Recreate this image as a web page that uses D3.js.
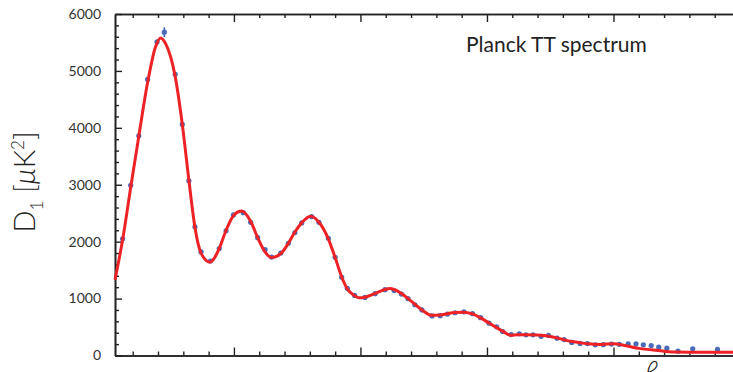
<!DOCTYPE html>
<html><head><meta charset="utf-8">
<script src="https://cdn.jsdelivr.net/npm/d3@7"></script>
<style>
html,body{margin:0;padding:0;background:#fff;}
svg{display:block;}
text{font-family:Lato,"Open Sans",sans-serif;}
</style></head>
<body><svg id="c" width="733" height="372"></svg>
<script>
// Binned Planck TT data points (multipole ℓ, D_ℓ in μK²)
const dataEll = [60,92,124,159,196,225,268,296,322,346,370,407,442,469,498,537,566,594,623,649,685,715,741,768,807,836,873,900,926,948,977,1018,1058,1097,1133,1162,1188,1215,1243,1283,1315,1344,1374,1409,1443,1475,1508,1538,1562,1596,1628,1654,1682,1714,1743,1777,1805,1835,1868,1897,1928,1960,1992,2023,2058,2089,2118,2149,2179,2211,2255,2313,2411];
const dataD = [2050,2990,3860,4850,5510,5680,4940,4060,3070,2260,1820,1660,1880,2190,2470,2510,2340,2070,1860,1730,1800,1970,2160,2330,2440,2340,2060,1725,1375,1180,1056,1020,1086,1156,1140,1080,998,892,800,695,700,728,751,768,734,664,568,505,422,367,382,364,364,337,352,304,280,230,212,210,188,190,200,196,206,206,188,176,146,128,76,118,106];
const dataErr = [0,0,0,0,0,85,0,0,0,0,0,0,0,0,0,0,0,0,0,0,0,0,0,0,0,0,0,0,0,0,0,0,0,0,0,0,0,0,0,0,0,0,0,0,0,0,0,0,0,0,0,0,0,0,0,0,0,0,0,0,0,0,0,0,0,0,0,0,0,0,0,0,0];
// Best-fit model curve
const modelEll = [30,60,92,124,159,190,210,230,268,296,322,346,370,405,442,469,500,530,566,594,623,648,685,715,741,768,803,836,873,900,926,948,977,995,1018,1058,1097,1117,1133,1162,1188,1215,1243,1282,1315,1344,1374,1407,1443,1475,1508,1538,1565,1592,1620,1660,1700,1745,1777,1805,1835,1868,1900,1950,2000,2050,2100,2150,2200,2245,2300,2400,2500];
const modelD = [1330,2030,2950,3850,4800,5420,5580,5480,4900,4060,3080,2250,1800,1640,1880,2200,2470,2540,2360,2070,1820,1720,1790,1970,2170,2330,2445,2340,2050,1720,1380,1170,1050,1015,1025,1090,1160,1175,1160,1090,1000,900,800,705,710,735,755,762,730,660,570,490,420,355,365,365,360,340,310,275,245,225,205,195,206,170,125,100,75,60,58,58,58];
const yTicks = [0,1000,2000,3000,4000,5000,6000];
const xMajor = [500,1000,1500,2000,2500];
const titleText = "Planck TT spectrum";

const svg = d3.select("#c");
const x = d3.scaleLinear().domain([30,2500]).range([115,740]);
const y = d3.scaleLinear().domain([0,6000]).range([355.5,14]);
const axisColor = "#222";

const minorX = d3.range(100,2501,100).filter(v=>!xMajor.includes(v));
const minorY = d3.range(0,6001,200).filter(v=>!yTicks.includes(v));

// Bottom axis (ticks inward)
const gB = svg.append("g").attr("transform",`translate(0,${y(0)})`);
gB.call(d3.axisBottom(x).tickValues(xMajor).tickSizeInner(-8).tickSizeOuter(0).tickFormat(""));
gB.append("g").call(d3.axisBottom(x).tickValues(minorX).tickSizeInner(-4).tickSizeOuter(0).tickFormat(""));
// Top axis
const gT = svg.append("g").attr("transform",`translate(0,${y(6000)})`);
gT.call(d3.axisTop(x).tickValues(xMajor).tickSizeInner(-8).tickSizeOuter(0).tickFormat(""));
gT.append("g").call(d3.axisTop(x).tickValues(minorX).tickSizeInner(-4).tickSizeOuter(0).tickFormat(""));
// Left axis
const gL = svg.append("g").attr("transform",`translate(${x(30)},0)`);
gL.call(d3.axisLeft(y).tickValues(yTicks).tickSizeInner(-7).tickSizeOuter(0).tickFormat(""));
gL.append("g").call(d3.axisLeft(y).tickValues(minorY).tickSizeInner(-4).tickSizeOuter(0).tickFormat(""));
// Right axis
const gR = svg.append("g").attr("transform",`translate(${x(2500)},0)`);
gR.call(d3.axisRight(y).tickValues(yTicks).tickSizeInner(-7).tickSizeOuter(0).tickFormat(""));

svg.selectAll(".domain").attr("stroke",axisColor).attr("stroke-width",1.6);
svg.selectAll(".tick line").attr("stroke",axisColor).attr("stroke-width",1.4);

// Y tick labels
svg.append("g").selectAll("text").data(yTicks).join("text")
  .attr("x",101).attr("y",d=>y(d)).attr("dy","0.35em")
  .attr("text-anchor","end").attr("font-size",14).attr("fill","#333")
  .text(d=>d);

// Data points with error bars
svg.append("g").selectAll("line").data(dataEll.map((l,i)=>({l,d:dataD[i],e:dataErr[i]})).filter(p=>p.e>0))
  .join("line").attr("x1",p=>x(p.l)).attr("x2",p=>x(p.l))
  .attr("y1",p=>y(p.d-p.e)).attr("y2",p=>y(p.d+p.e))
  .attr("stroke","#3d5ea8").attr("stroke-width",1.6);
svg.append("g").selectAll("circle").data(dataEll.map((l,i)=>({l,d:dataD[i]})))
  .join("circle").attr("cx",p=>x(p.l)).attr("cy",p=>y(p.d)).attr("r",2.6)
  .attr("fill","#4a6cb8");

// Model line
const line = d3.line().x(d=>x(d[0])).y(d=>y(d[1])).curve(d3.curveMonotoneX);
svg.append("path").datum(modelEll.map((l,i)=>[l,modelD[i]]))
  .attr("d",line).attr("fill","none").attr("stroke","#ec2226").attr("stroke-width",3)
  .attr("stroke-linejoin","round");

// Title
svg.append("text").attr("x",466).attr("y",52).attr("font-size",21).attr("fill","#222").text(titleText);

// Y label
const yl = svg.append("text").attr("transform","translate(35,182) rotate(-90)")
  .attr("text-anchor","middle").attr("font-size",29).attr("font-weight",300).attr("fill","#222");
yl.append("tspan").text("D");
yl.append("tspan").attr("font-size",17).attr("dy",8).text("1");
yl.append("tspan").attr("dy",-8).text(" [");
yl.append("tspan").attr("font-style","italic").text("μ");
yl.append("tspan").text("K");
yl.append("tspan").attr("font-size",17).attr("dy",-11).text("2");
yl.append("tspan").attr("dy",11).text("]");

// X label (partly below the visible area, as in the reference)
svg.append("text").attr("x",651).attr("y",381).attr("text-anchor","middle")
  .attr("font-size",28).attr("font-style","italic").attr("font-weight",300).attr("fill","#222").text("ℓ");
</script></body></html>
